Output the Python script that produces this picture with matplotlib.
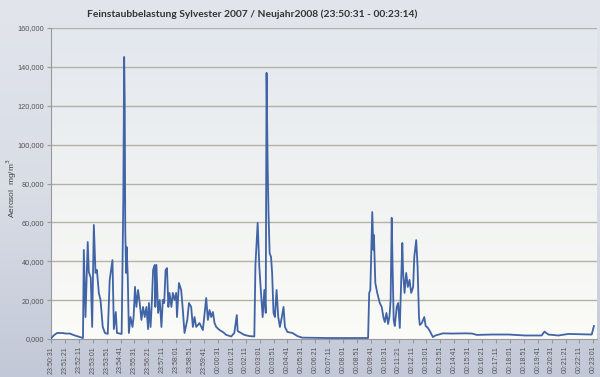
import numpy as np
import matplotlib
matplotlib.use("Agg")
import matplotlib.pyplot as plt
from matplotlib.colors import LinearSegmentedColormap

# seconds since 23:50:31
times = [0, 11, 22, 39, 54, 68, 82, 97, 115, 118, 124, 132, 136, 143, 148, 154, 160, 165,
         172, 178, 186, 194, 204, 211, 221, 226, 233, 237, 254, 260, 263, 265, 267, 270,
         272, 276, 280, 286, 293, 297, 302, 307, 313, 319, 325, 331, 337, 343, 349, 352,
         358, 363, 367, 373, 375, 379, 385, 391, 397, 402, 407, 412, 417, 422, 426, 433,
         438, 444, 450, 453, 460, 468, 474, 480, 490, 496, 504, 510, 516, 522, 534, 546,
         558, 564, 570, 576, 582, 588, 594, 606, 618, 630, 648, 659, 668, 671, 677, 695,
         713, 731, 735, 743, 749, 755, 761, 767, 772, 775, 779, 782, 786, 791, 795, 800,
         805, 811, 817, 823, 830, 836, 841, 850, 868, 886, 903, 1000, 1140, 1144, 1148,
         1155, 1159, 1161, 1166, 1173, 1182, 1189, 1195, 1200, 1206, 1212, 1217, 1221,
         1225, 1228, 1232, 1236, 1243, 1248, 1254, 1258, 1263, 1266, 1271, 1277, 1283,
         1289, 1295, 1302, 1306, 1313, 1318, 1323, 1326, 1333, 1342, 1347, 1355, 1362,
         1373, 1382, 1409, 1442, 1490, 1514, 1531, 1585, 1645, 1705, 1764, 1774, 1788,
         1824, 1860, 1944, 1952]
aerosol = [300, 2000, 3100, 3100, 2800, 2800, 2000, 1300, 500, 45800, 11300, 49900, 34500,
           31400, 6200, 58700, 34000, 35500, 23700, 20100, 6200, 3100, 2600, 30400, 40600,
           5100, 13900, 3100, 2600, 71500, 145100, 123000, 56100, 34000, 47300, 31900, 3100,
           11300, 6200, 11300, 26800, 16500, 25200, 18500, 9800, 16500, 11300, 16500, 5100,
           18500, 6200, 20100, 35500, 38100, 16500, 38100, 13400, 20100, 6200, 20100, 18500,
           35500, 36500, 16500, 23700, 16500, 23700, 20100, 23700, 11300, 28800, 25200,
           14900, 3100, 9800, 18500, 16500, 6200, 11300, 6200, 8200, 4600, 21100, 9800,
           14900, 11300, 13900, 8200, 6200, 4600, 3600, 2100, 1300, 3100, 12300, 4100, 3600,
           2100, 1500, 1300, 38100, 59700, 37000, 23700, 11300, 25200, 13400, 136900, 88500,
           64800, 44200, 42200, 34000, 13400, 11300, 25200, 11300, 6200, 11300, 16500, 6200,
           3600, 3100, 1500, 700, 500, 500, 23700, 25200, 65300, 45800, 53500, 28800, 23700,
           18500, 16500, 11300, 8700, 13400, 7700, 11800, 20100, 62300, 38100, 9800, 6700,
           16500, 18500, 5700, 25200, 49400, 34000, 23700, 34000, 26800, 30400, 23700,
           26800, 42200, 50900, 37000, 11300, 7200, 8200, 11300, 6700, 5700, 4100, 1000,
           1800, 2900, 2800, 2900, 2800, 2100, 2300, 2300, 1800, 1800, 3800, 2300, 1800,
           2600, 2300, 6700]

tick_labels = ["23:50:31", "23:51:21", "23:52:11", "23:53:01", "23:53:51", "23:54:41",
               "23:55:31", "23:56:21", "23:57:11", "23:58:01", "23:58:51", "23:59:41",
               "00:00:31", "00:01:21", "00:02:11", "00:03:01", "00:03:51", "00:04:41",
               "00:05:31", "00:06:21", "00:07:11", "00:08:01", "00:08:51", "00:09:41",
               "00:10:31", "00:11:21", "00:12:11", "00:13:01", "00:13:51", "00:14:41",
               "00:15:31", "00:16:21", "00:17:11", "00:18:01", "00:18:51", "00:19:41",
               "00:20:31", "00:21:21", "00:22:11", "00:23:01"]
y_ticks = [0, 20000, 40000, 60000, 80000, 100000, 120000, 140000, 160000]
y_tick_labels = ["0,000", "20,000", "40,000", "60,000", "80,000", "100,000",
                 "120,000", "140,000", "160,000"]

fig = plt.figure(figsize=(6, 3.77), dpi=100)

# figure background gradient
bg = fig.add_axes([0, 0, 1, 1], zorder=-10)
bg_cmap = LinearSegmentedColormap.from_list("bg", ["#e2e5ec", "#d9dde6", "#c3c8d8"])
grad = np.linspace(0, 1, 256).reshape(-1, 1)
bg.imshow(grad, aspect="auto", cmap=bg_cmap, extent=[0, 1, 0, 1], origin="upper")
bg.set_axis_off()

ax = fig.add_axes([0.085, 0.1008, 0.91, 0.8249])
ax_cmap = LinearSegmentedColormap.from_list("ax", ["#e3e7ee", "#f0f2f2", "#fbfbf7"])
ax.imshow(grad, aspect="auto", cmap=ax_cmap, extent=[0, 1963, 0, 160000],
          origin="upper", zorder=0)

for yv in y_ticks[1:]:
    ax.axhline(yv, color="#b4b2a6", lw=1.0, zorder=1)

ax.plot(times, aerosol, color="#4064a6", lw=1.3, zorder=3, solid_joinstyle="round")

ax.set_xlim(0, 1963)
ax.set_ylim(0, 160000)
ax.set_xticks([i * 50 for i in range(len(tick_labels))])
ax.set_xticklabels(tick_labels, rotation=90, fontsize=5, color="#555555",
                   family="Liberation Sans")
ax.set_yticks(y_ticks)
ax.set_yticklabels(y_tick_labels, fontsize=5.3, color="#555555", family="Liberation Sans")

ax.tick_params(axis="both", length=3, width=0.8, color="#999999", pad=2)
for s in ["top", "right"]:
    ax.spines[s].set_visible(False)
ax.spines["left"].set_color("#9a9a9a")
ax.spines["bottom"].set_color("#9a9a9a")
ax.spines["left"].set_linewidth(0.8)
ax.spines["bottom"].set_linewidth(0.8)

fig.text(0.02, 0.50, "Aerosol  mg/m$^3$", rotation=90, ha="center", va="center",
         fontsize=6, color="#444444", family="Liberation Sans")
fig.text(0.42, 0.963, "Feinstaubbelastung Sylvester 2007 / Neujahr2008 (23:50:31 - 00:23:14)",
         ha="center", va="center", fontsize=7.4, fontweight="bold", color="#333333",
         family="Lato")

fig.savefig("out.png", dpi=100)
